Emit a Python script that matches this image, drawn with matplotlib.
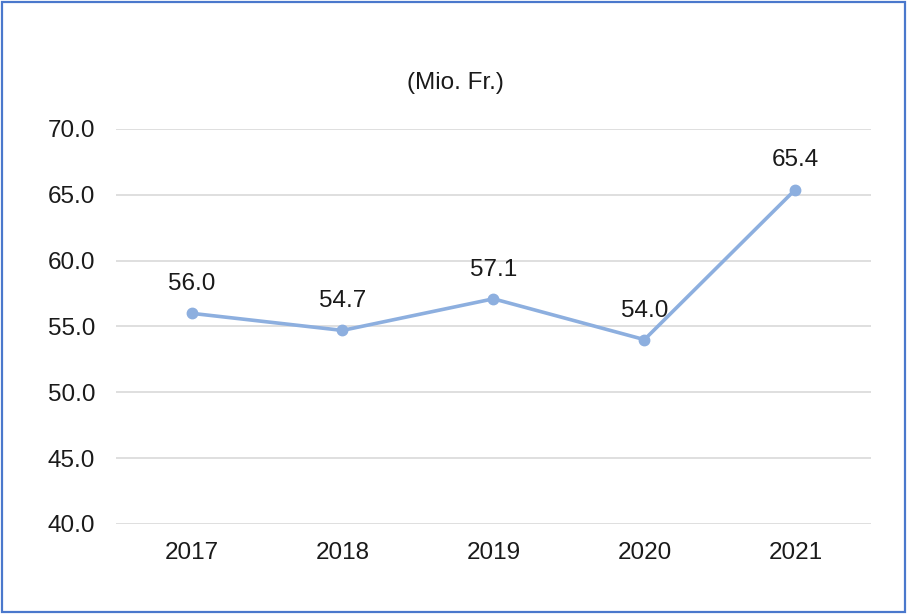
import matplotlib
matplotlib.use("Agg")
import matplotlib.pyplot as plt
from matplotlib.patches import Rectangle

years = ['2017', '2018', '2019', '2020', '2021']
values = [56.0, 54.7, 57.1, 54.0, 65.4]
y_ticks = [40, 45, 50, 55, 60, 65, 70]

plt.rcParams['font.family'] = ['Liberation Sans', 'DejaVu Sans']

fig = plt.figure(figsize=(9.1, 6.14), dpi=100)
ax = fig.add_axes([0.1275, 0.1466, 0.8295, 0.6434])

x = range(len(years))
ax.plot(x, values, color='#8DAFDF', linewidth=2.6, marker='o', markersize=7.5,
        solid_capstyle='round', zorder=3)

for xi, v in zip(x, values):
    ax.annotate(f'{v:.1f}', (xi, v), xytext=(0, 13), textcoords='offset points',
                ha='center', va='bottom', fontsize=17.5, color='#1a1a1a')

ax.set_xlim(-0.5, len(years) - 0.5)
ax.set_ylim(40, 70)
ax.set_yticks(y_ticks)
ax.set_yticklabels([f'{t:.1f}' for t in y_ticks])
ax.set_xticks(list(x))
ax.set_xticklabels(years)
ax.tick_params(length=0, labelsize=17.5, colors='#1a1a1a')
ax.tick_params(axis='y', pad=15)
ax.tick_params(axis='x', pad=13)
ax.grid(axis='y', color='#d9d9d9', linewidth=1.2)
ax.set_axisbelow(True)
for s in ax.spines.values():
    s.set_visible(False)

fig.text(0.5, 0.865, '(Mio. Fr.)', ha='center', va='center', fontsize=17.5, color='#1a1a1a')

fig.patches.append(Rectangle((0.002, 0.003), 0.993, 0.994, transform=fig.transFigure,
                             fill=False, edgecolor='#4A78CC', linewidth=1.6))

fig.savefig('out.png', dpi=100)
